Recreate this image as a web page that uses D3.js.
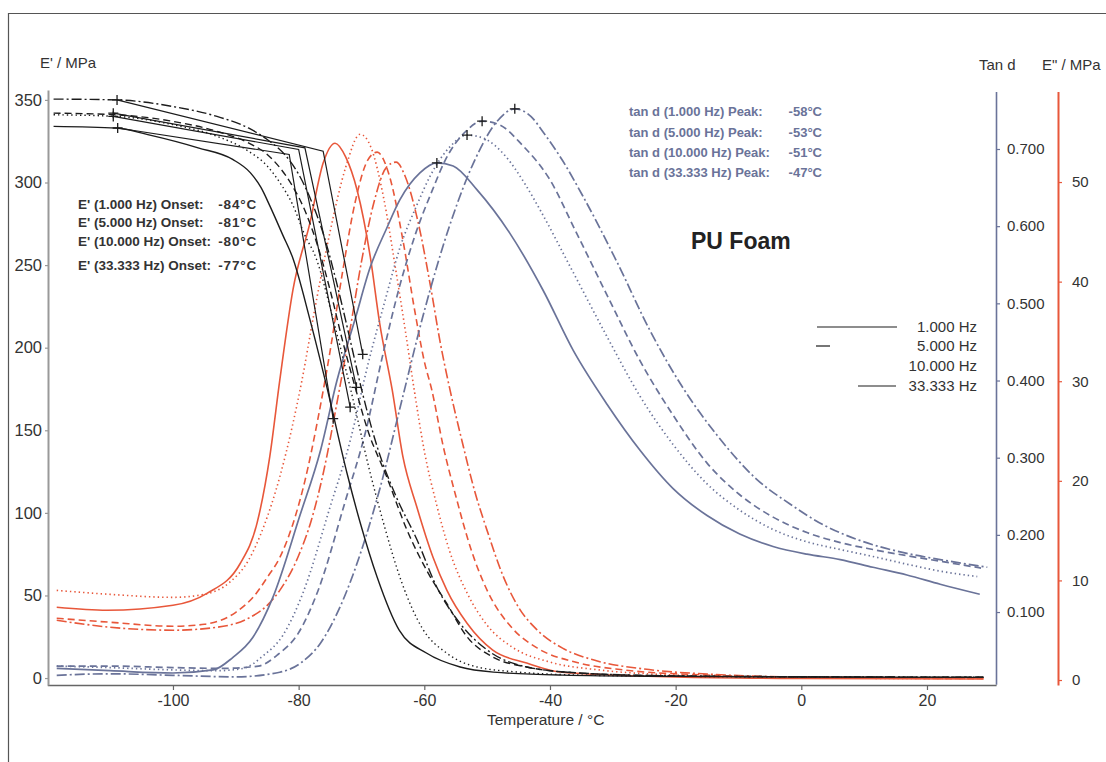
<!DOCTYPE html>
<html>
<head>
<meta charset="utf-8">
<script src="https://cdn.jsdelivr.net/npm/d3@7"></script>
<style>
  body { margin: 0; background: #fff; }
  svg { font-family: "Liberation Sans", Arial, sans-serif; }
</style>
</head>
<body>
<div id="chart"></div>
<script>
// ---- data: [temperature °C, value] ----
const frequencies = ["1.000 Hz", "5.000 Hz", "10.000 Hz", "33.333 Hz"];

const xTicks = [-100, -80, -60, -40, -20, 0, 20];
const storageTicks = [0, 50, 100, 150, 200, 250, 300, 350];
const tanTicks = [0.1, 0.2, 0.3, 0.4, 0.5, 0.6, 0.7];
const lossTicks = [0, 10, 20, 30, 40, 50];

// E' (storage modulus, MPa)
const storage1Hz = [[-119,334],[-109,333],[-104,329],[-96,321],[-90.5,314],[-87.7,306],[-86,297],[-84.6,286],[-82.5,268],[-81,255],[-78.2,217],[-75.5,176],[-72.3,124],[-70.2,94],[-67.5,61],[-64,29],[-59.6,15],[-54.3,6.7],[-49,3.6],[-38,1.8],[-20,1.0],[0,0.6],[29,0.4]];
const storage5Hz = [[-119,341],[-109,340],[-100,335],[-93,328],[-88,319],[-85,310],[-83,300],[-81,287],[-79,268],[-77.3,255],[-74.5,217],[-71.8,176],[-68.6,124],[-66.5,94],[-63.6,58],[-60.3,30],[-56.4,15],[-51.6,6.7],[-45,3.6],[-35,1.8],[-20,1.1],[0,0.7],[29,0.5]];
const storage10Hz = [[-119,342],[-109,341],[-100,337],[-93,331],[-88,324],[-85,317],[-83,309],[-81,298],[-79,283],[-77,262],[-75,235],[-73,204],[-71,176],[-69,150],[-66,122],[-62.8,90],[-59.6,65],[-56.4,45],[-53.2,25],[-49.1,12.7],[-43.7,6.7],[-35,3],[-20,1.3],[0,0.8],[29,0.5]];
const storage33Hz = [[-119,350.5],[-109,350],[-100,346],[-93,340],[-88,333],[-85,326],[-82,316],[-80,305],[-78,289],[-76,268],[-74,240],[-72,208],[-70,175],[-67.5,140],[-64.5,110],[-61.2,84],[-58,55],[-54.3,33],[-50,17],[-43.7,6.7],[-35,3],[-20,1.3],[0,0.8],[29,0.5]];

// E'' (loss modulus, MPa)
const loss1Hz = [[-118.5,7.3],[-110.5,7.0],[-100,7.5],[-94.6,8.7],[-89.3,11.7],[-86.6,15.8],[-84.6,22.4],[-83,30.1],[-80.9,39.2],[-78.2,45.9],[-76.1,51.9],[-74.2,53.9],[-72.5,52.5],[-70.7,49.2],[-68.6,42.5],[-67.1,35.8],[-65.1,29.1],[-63.4,22.4],[-61.2,17.4],[-58.6,12.3],[-56.4,9.0],[-53.2,5.7],[-49.1,3.0],[-43.7,1.7],[-38.4,0.8],[-30,0.5],[-20,0.3],[0,0.15],[29,0.1]];
const loss5Hz = [[-118.5,9.0],[-110,8.6],[-100,8.3],[-95,8.6],[-91,9.8],[-88,12],[-85.5,15.5],[-83,20.4],[-81,25.5],[-79.5,30],[-77.5,37],[-75,45],[-72.5,51.5],[-70.2,54.8],[-68.5,53.5],[-66.5,48.5],[-64.5,41],[-63,35],[-61.6,29.1],[-60,23],[-58,17.5],[-56,13],[-53,8.5],[-50,5.5],[-46,3.3],[-40,1.8],[-32,1],[-20,0.5],[0,0.2],[29,0.15]];
const loss10Hz = [[-118.5,6.2],[-110,5.8],[-100,5.4],[-95,5.6],[-90,6.8],[-87,8.5],[-85,10.3],[-83,12.3],[-81,15.5],[-79,20],[-77,26],[-75,33],[-73,41],[-71,48],[-69,52.2],[-67.5,53],[-65.5,50.5],[-63.5,44.5],[-61.5,37],[-60,32],[-58.8,29.1],[-57,23.5],[-55,18.5],[-52.5,13],[-50,9],[-46,5.2],[-42,3.2],[-36,1.8],[-28,1],[-15,0.5],[0,0.25],[29,0.15]];
const loss33Hz = [[-118.5,6],[-110,5.3],[-100,5.0],[-93,5.3],[-88,6.2],[-85,7.5],[-83,9],[-80,12.5],[-78,16],[-76,21],[-74,27.5],[-72,34.5],[-70,42],[-68,48],[-66,51.5],[-64.5,52],[-63,50.5],[-61,46],[-59,39.5],[-57.5,34],[-55.9,29.1],[-54,24],[-52,19],[-50,15],[-47.5,10.5],[-45,7.3],[-42,5],[-38,3.2],[-33,2],[-25,1.1],[-15,0.6],[0,0.3],[29,0.2]];

// tan d
const tan1Hz = [[-118.5,0.027],[-110,0.024],[-100,0.021],[-93.6,0.025],[-90.5,0.041],[-87.3,0.067],[-84.1,0.119],[-79.8,0.225],[-76.5,0.31],[-73.9,0.40],[-71,0.48],[-68.6,0.547],[-66,0.597],[-63.9,0.634],[-60.7,0.669],[-58,0.682],[-55.4,0.678],[-51.6,0.647],[-46.4,0.591],[-41.1,0.517],[-36.3,0.439],[-30.9,0.369],[-25.7,0.31],[-20.4,0.26],[-15,0.225],[-9.8,0.201],[-4.5,0.185],[0.9,0.175],[6.2,0.168],[11.4,0.158],[16.8,0.148],[22.1,0.136],[28.4,0.123]];
const tan5Hz = [[-118.5,0.03],[-110,0.028],[-100,0.025],[-93,0.024],[-88.8,0.027],[-85.7,0.043],[-82.5,0.07],[-79.3,0.125],[-75,0.236],[-71.7,0.325],[-69,0.42],[-66.2,0.505],[-63.8,0.574],[-61.2,0.627],[-59,0.666],[-55.9,0.703],[-53.2,0.718],[-50.6,0.714],[-47,0.69],[-44,0.655],[-41.5,0.62],[-36.3,0.54],[-31,0.458],[-25.7,0.38],[-20.4,0.317],[-15,0.266],[-9.8,0.232],[-4.5,0.207],[0.9,0.191],[6.2,0.181],[11.4,0.172],[16.8,0.162],[22.1,0.153],[28,0.146]];
const tan10Hz = [[-118.5,0.03],[-110,0.03],[-100,0.028],[-92,0.027],[-86.4,0.03],[-83.3,0.045],[-80.1,0.072],[-76.9,0.128],[-72.6,0.243],[-69.3,0.335],[-66.7,0.43],[-64,0.52],[-61.4,0.59],[-58.7,0.647],[-56.7,0.685],[-53.5,0.722],[-50.8,0.736],[-48.2,0.732],[-44.4,0.705],[-40,0.66],[-36,0.595],[-31,0.512],[-25.7,0.426],[-20.4,0.355],[-15,0.293],[-9.8,0.252],[-4.5,0.223],[0.9,0.203],[6.2,0.19],[11.4,0.181],[16.8,0.173],[22,0.166],[28.6,0.157]];
const tan33Hz = [[-118.5,0.018],[-110,0.02],[-100,0.018],[-90,0.016],[-83,0.022],[-79.5,0.035],[-76.5,0.06],[-73.5,0.105],[-70,0.18],[-67,0.262],[-63.4,0.38],[-60,0.49],[-56,0.6],[-52,0.685],[-48.5,0.735],[-45.6,0.752],[-43,0.742],[-41.1,0.722],[-38,0.685],[-34.7,0.638],[-29.3,0.553],[-24.1,0.465],[-18.8,0.39],[-13.4,0.329],[-7.1,0.272],[-1.8,0.24],[3.5,0.213],[8.9,0.194],[16.8,0.176],[22.1,0.168],[29.6,0.158]];

// onset construction for E': glassy tangent start, intersection, steep tangent end
const onset1Hz = [[-108.8,333],[-81.5,317],[-74.5,157]];
const onset5Hz = [[-109.5,340],[-80,320],[-71.8,164]];
const onset10Hz = [[-109.5,342],[-79,321],[-70.8,176]];
const onset33Hz = [[-108.9,350],[-76.1,319],[-69.8,196]];

// tan d peak markers
const tanPeaks = [[-58,0.682],[-53.2,0.718],[-50.8,0.736],[-45.6,0.752]];

const onsetLabels = ["E' (1.000 Hz) Onset:", "E' (5.000 Hz) Onset:", "E' (10.000 Hz) Onset:", "E' (33.333 Hz) Onset:"];
const onsetValues = ["-84°C", "-81°C", "-80°C", "-77°C"];
const peakLabels = ["tan d (1.000 Hz) Peak:", "tan d (5.000 Hz) Peak:", "tan d (10.000 Hz) Peak:", "tan d (33.333 Hz) Peak:"];
const peakValues = ["-58°C", "-53°C", "-51°C", "-47°C"];

// ---- layout ----
const width = 1106, height = 762;
const black = "#1c1c1c", red = "#e8573a", blue = "#6a7399";
const dashes = [null, "1.4,3", "7,4", "10,3,2,3"];

const svg = d3.select("#chart").append("svg")
    .attr("width", width)
    .attr("height", height);

// outer frame
svg.append("path")
    .attr("d", "M8.5,762V13.5H1106")
    .attr("fill", "none")
    .attr("stroke", "#555")
    .attr("stroke-width", 1.2);

const x = d3.scaleLinear().domain([-120, 31]).range([47.3, 996.1]);
const yE = d3.scaleLinear().domain([-4.2, 356]).range([685, 90]);
const yTan = d3.scaleLinear().domain([0.0065, 0.7745]).range([684.2, 91.5]);
const yLoss = d3.scaleLinear().domain([-0.5, 59.1]).range([685, 91.4]);

function styleAxis(g, color, size, lineWidth) {
    g.select(".domain").attr("stroke", color).attr("stroke-width", lineWidth);
    g.selectAll(".tick line").attr("stroke", color).attr("stroke-width", 1.2);
    g.selectAll(".tick text").attr("fill", "#333").style("font-size", size + "px");
}

// x axis
const xMinor = [-110, -90, -70, -50, -30, -10, 10];
const gx = svg.append("g").attr("transform", "translate(0,685)");
gx.call(d3.axisBottom(x).tickValues(xMinor).tickSize(5).tickSizeOuter(0).tickFormat(""));
gx.call(d3.axisBottom(x).tickValues(xTicks).tickSize(5).tickSizeOuter(0).tickPadding(5).tickFormat(d => String(d)));
styleAxis(gx, "#666", 16, 1.5);

// left axis E'
const eMinor = d3.range(10, 351, 10).filter(d => d % 50 !== 0);
const gl = svg.append("g").attr("transform", "translate(48,0)");
gl.call(d3.axisLeft(yE).tickValues(eMinor).tickSize(2).tickSizeOuter(0).tickFormat(""));
gl.call(d3.axisLeft(yE).tickValues(storageTicks).tickSize(3).tickSizeOuter(0).tickPadding(3).tickFormat(d => String(d)));
styleAxis(gl, "#999", 16.5, 2);

// right axis tan d
const tanMinor = d3.range(1, 39).map(i => i * 0.02).filter(d => Math.abs(d * 10 - Math.round(d * 10)) > 0.01);
const gt = svg.append("g").attr("transform", "translate(996,0)");
gt.call(d3.axisRight(yTan).tickValues(tanMinor).tickSize(3).tickSizeOuter(0).tickFormat(""));
gt.call(d3.axisRight(yTan).tickValues(tanTicks).tickSize(4).tickSizeOuter(0).tickPadding(7).tickFormat(d3.format(".3f")));
styleAxis(gt, blue, 15, 1.6);

// right axis E''
const lossMinor = d3.range(2, 59, 2).filter(d => d % 10 !== 0);
const gr = svg.append("g").attr("transform", "translate(1058,0)");
gr.call(d3.axisRight(yLoss).tickValues(lossMinor).tickSize(3).tickSizeOuter(0).tickFormat(""));
gr.call(d3.axisRight(yLoss).tickValues(lossTicks).tickSize(4).tickSizeOuter(0).tickPadding(10).tickFormat(d => String(d)));
styleAxis(gr, red, 15, 2);

// axis titles
svg.append("text").attr("x", 40).attr("y", 68).attr("fill", "#333").style("font-size", "15px").text("E' / MPa");
svg.append("text").attr("x", 979).attr("y", 70).attr("fill", "#333").style("font-size", "15px").text("Tan d");
svg.append("text").attr("x", 1042).attr("y", 70).attr("fill", "#333").style("font-size", "15px").text("E\" / MPa");
svg.append("text").attr("x", 487).attr("y", 725).attr("fill", "#333").style("font-size", "15.5px").text("Temperature / °C");

// curves
function drawCurve(data, yScale, color, dash, w) {
    const line = d3.line()
        .x(d => x(d[0]))
        .y(d => yScale(d[1]))
        .curve(d3.curveMonotoneX);
    svg.append("path")
        .datum(data)
        .attr("d", line)
        .attr("fill", "none")
        .attr("stroke", color)
        .attr("stroke-width", w)
        .attr("stroke-dasharray", dash);
}

[loss1Hz, loss5Hz, loss10Hz, loss33Hz].forEach((d, i) => drawCurve(d, yLoss, red, dashes[i], 1.6));
[tan1Hz, tan5Hz, tan10Hz, tan33Hz].forEach((d, i) => drawCurve(d, yTan, blue, dashes[i], 1.7));
[storage1Hz, storage5Hz, storage10Hz, storage33Hz].forEach((d, i) => drawCurve(d, yE, black, dashes[i], 1.4));

// onset tangent lines
const tangentLine = d3.line().x(d => x(d[0])).y(d => yE(d[1]));
function plus(px, py) {
    svg.append("path")
        .attr("d", `M${px - 5},${py}H${px + 5}M${px},${py - 5}V${py + 5}`)
        .attr("stroke", black)
        .attr("stroke-width", 1.3);
}
[onset1Hz, onset5Hz, onset10Hz, onset33Hz].forEach(d => {
    svg.append("path").attr("d", tangentLine(d)).attr("fill", "none")
        .attr("stroke", black).attr("stroke-width", 1.2);
    plus(x(d[0][0]), yE(d[0][1]));
    plus(x(d[2][0]), yE(d[2][1]));
});
tanPeaks.forEach(d => plus(x(d[0]), yTan(d[1])));

// annotations
const onsetRowY = [204, 222, 241, 265];
onsetLabels.forEach((t, i) => {
    svg.append("text").attr("x", 78).attr("y", onsetRowY[i] + 5)
        .attr("fill", "#333").style("font-size", "13.5px").style("font-weight", "bold").text(t);
    svg.append("text").attr("x", 257).attr("y", onsetRowY[i] + 5).attr("text-anchor", "end")
        .attr("fill", "#333").style("font-size", "13.5px").style("font-weight", "bold")
        .style("letter-spacing", "0.8px").text(onsetValues[i]);
});
const peakRowY = [111, 132, 152, 172];
peakLabels.forEach((t, i) => {
    svg.append("text").attr("x", 629).attr("y", peakRowY[i] + 4.5)
        .attr("fill", blue).style("font-size", "13px").style("font-weight", "bold").text(t);
    svg.append("text").attr("x", 822).attr("y", peakRowY[i] + 4.5).attr("text-anchor", "end")
        .attr("fill", blue).style("font-size", "13px").style("font-weight", "bold").text(peakValues[i]);
});

svg.append("text").attr("x", 691).attr("y", 249)
    .attr("fill", "#222").style("font-size", "23px").style("font-weight", "bold").text("PU Foam");

// legend (sample strokes as they appear in the original)
const legendRowY = [327, 346, 366, 386];
const legendStroke = [[817, 897], [816, 830], null, [858, 896]];
frequencies.forEach((f, i) => {
    svg.append("text").attr("x", 977).attr("y", legendRowY[i] + 5).attr("text-anchor", "end")
        .attr("fill", "#333").style("font-size", "15px").text(f);
    if (legendStroke[i]) {
        svg.append("line")
            .attr("x1", legendStroke[i][0]).attr("x2", legendStroke[i][1])
            .attr("y1", legendRowY[i]).attr("y2", legendRowY[i])
            .attr("stroke", black).attr("stroke-width", 1.2);
    }
});
</script>
</body>
</html>
